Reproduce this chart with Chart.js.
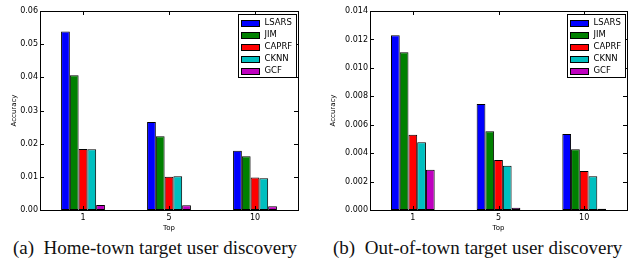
<!DOCTYPE html>
<html>
<head>
<meta charset="utf-8">
<script src="https://cdn.jsdelivr.net/npm/chart.js@4.4.1/dist/chart.umd.min.js"></script>
<style>
  body { margin: 0; background: #fff; width: 638px; height: 264px; position: relative; overflow: hidden; }
  .panel { position: absolute; top: 0; width: 319px; height: 236px; }
  .caption { position: absolute; top: 237px; font-family: "Liberation Serif", serif; font-size: 19px; color: #111; white-space: nowrap; }
</style>
</head>
<body>
<div class="panel" style="left:0"><canvas id="homeChart" width="319" height="236"></canvas></div>
<div class="panel" style="left:319px"><canvas id="outChart" width="319" height="236"></canvas></div>
<div class="caption" id="capA" style="left:13px">(a)&nbsp; Home-town target user discovery</div>
<div class="caption" id="capB" style="left:333px">(b)&nbsp; Out-of-town target user discovery</div>

<script>
// data
const categories = ['1', '5', '10'];
const methods = ['LSARS', 'JIM', 'CAPRF', 'CKNN', 'GCF'];

const homeLSARS = [0.0538, 0.0265, 0.0179];
const homeJIM   = [0.0406, 0.0222, 0.0162];
const homeCAPRF = [0.0184, 0.0100, 0.0098];
const homeCKNN  = [0.0183, 0.0102, 0.0096];
const homeGCF   = [0.0015, 0.0014, 0.0011];

const outLSARS = [0.0123, 0.00746, 0.00535];
const outJIM   = [0.0111, 0.00554, 0.00427];
const outCAPRF = [0.0053, 0.00352, 0.00274];
const outCKNN  = [0.00476, 0.00312, 0.00237];
const outGCF   = [0.00284, 0.00016, 0.00009];

const colors = ['#0000ff', '#008000', '#ff0000', '#00bfbf', '#bf00bf'];

Chart.defaults.color = '#000';
Chart.defaults.font.family = '"DejaVu Sans", sans-serif';
Chart.defaults.animation = false;

// matplotlib-ish frame, inward ticks and legend in the upper right corner
const framePlugin = {
    id: 'frame',
    afterDatasetsDraw(chart) {
        const ctx = chart.ctx;
        const a = chart.chartArea;
        const xs = chart.scales.x;
        const ys = chart.scales.y;
        ctx.save();
        ctx.strokeStyle = '#000';
        ctx.lineWidth = 1;
        ctx.beginPath();
        ys.ticks.forEach((t, i) => {
            const y = Math.round(ys.getPixelForTick(i)) + 0.5;
            ctx.moveTo(a.left, y); ctx.lineTo(a.left + 4, y);
            ctx.moveTo(a.right, y); ctx.lineTo(a.right - 4, y);
        });
        xs.ticks.forEach((t, i) => {
            const x = Math.round(xs.getPixelForTick(i)) + 0.5;
            ctx.moveTo(x, a.bottom); ctx.lineTo(x, a.bottom - 4);
            ctx.moveTo(x, a.top); ctx.lineTo(x, a.top + 4);
        });
        ctx.stroke();
        ctx.strokeRect(Math.round(a.left) + 0.5, Math.round(a.top) + 0.5,
            Math.round(a.right - a.left), Math.round(a.bottom - a.top));

        // legend
        const lg = chart.options.plugins.cornerLegend;
        const bx = Math.round(a.right - lg.right - lg.width) + 0.5;
        const by = Math.round(a.top + lg.top) + 0.5;
        ctx.fillStyle = '#fff';
        ctx.fillRect(bx, by, lg.width, lg.height);
        ctx.strokeRect(bx, by, lg.width, lg.height);
        ctx.font = '8.5px "DejaVu Sans", sans-serif';
        ctx.textBaseline = 'middle';
        chart.data.datasets.forEach((ds, i) => {
            const cy = by + 8 + i * 12;
            ctx.fillStyle = ds.backgroundColor;
            ctx.fillRect(bx + 3, Math.round(cy - 3) + 0.5, 18, 6);
            ctx.strokeRect(bx + 3, Math.round(cy - 3) + 0.5, 18, 6);
            ctx.fillStyle = '#000';
            ctx.fillText(ds.label, bx + 26, cy);
        });
        ctx.restore();
    }
};

function makeChart(id, series, yMax, yStep, digits, yWidth, padRight) {
    return new Chart(document.getElementById(id), {
        type: 'bar',
        data: {
            labels: categories,
            datasets: methods.map((m, i) => ({
                label: m,
                data: series[i],
                backgroundColor: colors[i],
                borderColor: '#000',
                borderWidth: 1,
                borderSkipped: false,
                categoryPercentage: 0.51,
                barPercentage: 1.0
            }))
        },
        options: {
            responsive: false,
            layout: { padding: { left: 0, right: padRight, top: 11, bottom: 0 } },
            plugins: {
                legend: { display: false },
                tooltip: { enabled: false },
                cornerLegend: { right: 2, top: 3, width: 58, height: 63 }
            },
            scales: {
                x: {
                    grid: { display: false, drawTicks: false },
                    border: { display: false },
                    ticks: { font: { size: 8 }, padding: 3 },
                    title: { display: true, text: 'Top', font: { size: 7 }, padding: { top: 0, bottom: 4 } },
                    afterFit(s) { s.height = 26; }
                },
                y: {
                    min: 0,
                    max: yMax,
                    grid: { display: false, drawTicks: false },
                    border: { display: false },
                    ticks: {
                        stepSize: yStep,
                        font: { size: 8 },
                        padding: 2,
                        callback: v => v.toFixed(digits)
                    },
                    title: { display: true, text: 'Accuracy', font: { size: 7 }, padding: { top: 10, bottom: 0 } },
                    afterFit(s) { s.width = yWidth; }
                }
            }
        },
        plugins: [framePlugin]
    });
}

makeChart('homeChart', [homeLSARS, homeJIM, homeCAPRF, homeCKNN, homeGCF], 0.06, 0.01, 2, 40, 21);
makeChart('outChart', [outLSARS, outJIM, outCAPRF, outCKNN, outGCF], 0.014, 0.002, 3, 51, 11);
</script>
</body>
</html>
